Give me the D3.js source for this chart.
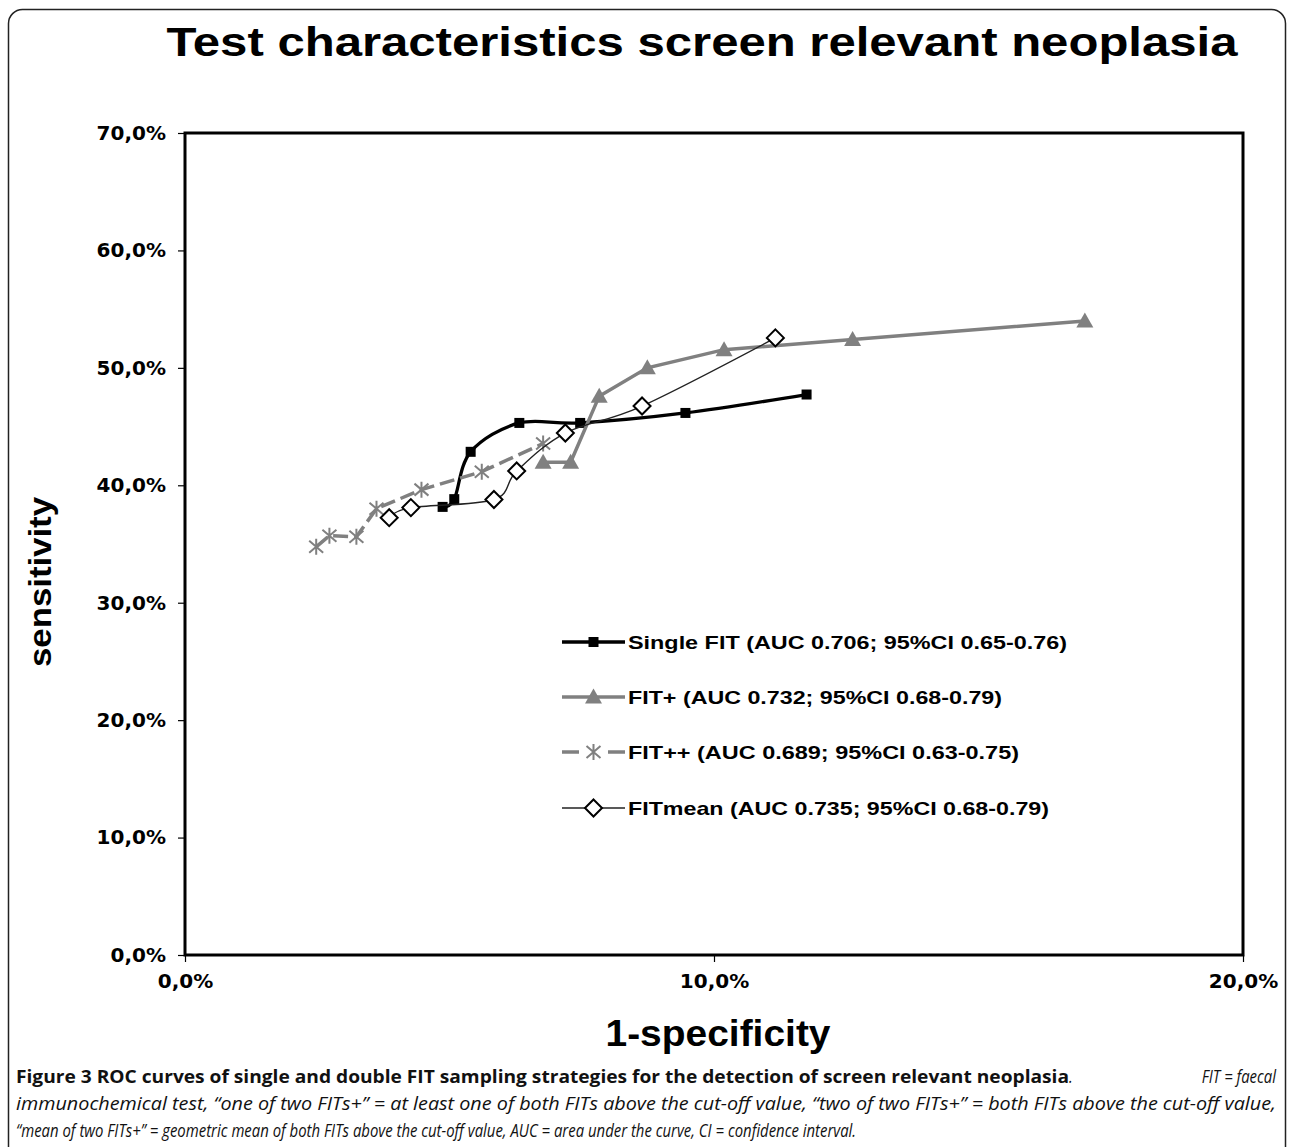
<!DOCTYPE html>
<html>
<head>
<meta charset="utf-8">
<script src="https://cdn.jsdelivr.net/npm/d3@7"></script>
<style>
    body { margin: 0; background: #fff; }
    svg { display: block; font-family: "Liberation Sans", Arial, sans-serif; }
</style>
</head>
<body>
<svg id="chart"></svg>
<script>
// Values (percent)
const xTicks = [0, 10, 20];
const yTicks = [0, 10, 20, 30, 40, 50, 60, 70];

const singleFitX = [4.87, 5.09, 5.40, 6.32, 7.47, 9.46, 11.75];
const singleFitY = [38.16, 38.82, 42.85, 45.31, 45.31, 46.16, 47.73];

const fitPlusX = [6.77, 7.29, 7.83, 8.74, 10.19, 12.62, 17.01];
const fitPlusY = [41.97, 41.97, 47.59, 50.0, 51.55, 52.41, 54.0];

const fitPlusPlusX = [2.48, 2.73, 3.24, 3.62, 4.47, 5.61, 6.77];
const fitPlusPlusY = [34.76, 35.71, 35.61, 38.01, 39.63, 41.16, 43.56];

const fitMeanX = [3.86, 4.27, 5.84, 6.27, 7.19, 8.64, 11.16];
const fitMeanY = [37.24, 38.10, 38.79, 41.22, 44.45, 46.75, 52.55];

const seriesNames = [
    "Single FIT (AUC 0.706; 95%CI 0.65-0.76)",
    "FIT+ (AUC 0.732; 95%CI 0.68-0.79)",
    "FIT++ (AUC 0.689; 95%CI 0.63-0.75)",
    "FITmean (AUC 0.735; 95%CI 0.68-0.79)",
];

const titleText = "Test characteristics screen relevant neoplasia";
const xTitle = "1-specificity";
const yTitle = "sensitivity";

const captionBold = "Figure 3 ROC curves of single and double FIT sampling strategies for the detection of screen relevant neoplasia";
const captionLines = [
    "FIT = faecal",
    "immunochemical test, \u201cone of two FITs+\u201d = at least one of both FITs above the cut-off value, \u201ctwo of two FITs+\u201d = both FITs above the cut-off value,",
    "\u201cmean of two FITs+\u201d = geometric mean of both FITs above the cut-off value, AUC = area under the curve, CI = confidence interval.",
];

class RocChart {
    constructor(_config, _series) {
        this.config = {
            parentElement: _config.parentElement,
            containerWidth: _config.containerWidth || 1293,
            containerHeight: _config.containerHeight || 1147,
            margin: { top: 133, right: 50, bottom: 192, left: 185 },
        };
        this.series = _series;
        this.initVis();
    }

    initVis() {
        let vis = this;

        vis.width = vis.config.containerWidth - vis.config.margin.left - vis.config.margin.right;
        vis.height = vis.config.containerHeight - vis.config.margin.top - vis.config.margin.bottom;

        vis.svg = d3.select(vis.config.parentElement)
            .attr("width", vis.config.containerWidth)
            .attr("height", vis.config.containerHeight);

        // rounded outer frame (runs past the bottom edge)
        vis.svg.append("rect")
            .attr("x", 8.5).attr("y", 9.5)
            .attr("width", 1277).attr("height", 1170)
            .attr("rx", 14)
            .attr("fill", "none")
            .attr("stroke", "#222")
            .attr("stroke-width", 1.5);

        vis.svg.append("text")
            .attr("x", 702).attr("y", 56)
            .attr("text-anchor", "middle")
            .attr("font-size", 41).attr("font-weight", "bold")
            .attr("textLength", 1071).attr("lengthAdjust", "spacingAndGlyphs")
            .text(titleText);

        vis.xScale = d3.scaleLinear().domain([0, 20]).range([0, vis.width]);
        vis.yScale = d3.scaleLinear().domain([0, 70]).range([vis.height, 0]);

        const loc = d3.formatLocale({ decimal: ",", thousands: ".", grouping: [3], currency: ["", "€"] });
        const fmt = d => loc.format(".1f")(d) + "%";

        vis.xAxis = d3.axisBottom(vis.xScale).tickValues(xTicks).tickFormat(fmt).tickSize(7).tickPadding(12);
        vis.yAxis = d3.axisLeft(vis.yScale).tickValues(yTicks).tickFormat(fmt).tickSize(7).tickPadding(12);

        vis.chart = vis.svg.append("g")
            .attr("transform", `translate(${vis.config.margin.left},${vis.config.margin.top})`);

        vis.xAxisG = vis.chart.append("g")
            .attr("class", "axis x-axis")
            .attr("transform", `translate(0,${vis.height})`);
        vis.yAxisG = vis.chart.append("g").attr("class", "axis y-axis");

        // plot frame
        vis.chart.append("rect")
            .attr("width", vis.width).attr("height", vis.height)
            .attr("fill", "none").attr("stroke", "#000").attr("stroke-width", 3);

        vis.svg.append("text")
            .attr("transform", "translate(51,582) rotate(-90)")
            .attr("text-anchor", "middle")
            .attr("font-size", 32).attr("font-weight", "bold")
            .attr("textLength", 170).attr("lengthAdjust", "spacingAndGlyphs")
            .text(yTitle);

        vis.svg.append("text")
            .attr("x", 718).attr("y", 1046)
            .attr("text-anchor", "middle")
            .attr("font-size", 36).attr("font-weight", "bold")
            .attr("textLength", 225).attr("lengthAdjust", "spacingAndGlyphs")
            .text(xTitle);

        vis.updateVis();
    }

    updateVis() {
        let vis = this;

        vis.seriesData = vis.series.map(s => ({
            name: s.name,
            style: s.style,
            points: d3.zip(s.x, s.y),
        }));

        vis.xValue = d => d[0];
        vis.yValue = d => d[1];

        vis.renderVis();
    }

    drawMarker(g, type) {
        if (type === "square") {
            g.append("rect").attr("x", -5).attr("y", -5).attr("width", 10).attr("height", 10).attr("fill", "#000");
        } else if (type === "triangle") {
            g.append("path").attr("d", "M0,-8.5L8.5,6.5L-8.5,6.5Z").attr("fill", "#808080");
        } else if (type === "star") {
            g.append("path")
                .attr("d", "M0,-8V8M-7,-6L7,6M-7,6L7,-6")
                .attr("stroke", "#808080").attr("stroke-width", 2).attr("fill", "none");
        } else if (type === "diamond") {
            g.append("path")
                .attr("d", "M0,-8.5L8.5,0L0,8.5L-8.5,0Z")
                .attr("fill", "#fff").attr("stroke", "#000").attr("stroke-width", 2);
        }
    }

    renderVis() {
        let vis = this;

        const line = d3.line()
            .x(d => vis.xScale(vis.xValue(d)))
            .y(d => vis.yScale(vis.yValue(d)));

        const groups = vis.chart.selectAll(".series")
            .data(vis.seriesData)
            .join("g")
            .attr("class", "series");

        groups.append("path")
            .attr("d", d => line.curve(d.style.curve)(d.points))
            .attr("fill", "none")
            .attr("stroke", d => d.style.color)
            .attr("stroke-width", d => d.style.width)
            .attr("stroke-dasharray", d => d.style.dash || null);

        groups.each(function (s) {
            d3.select(this).selectAll(".marker")
                .data(s.points)
                .join("g")
                .attr("class", "marker")
                .attr("transform", d => `translate(${vis.xScale(vis.xValue(d))},${vis.yScale(vis.yValue(d))})`)
                .each(function () { vis.drawMarker(d3.select(this), s.style.marker); });
        });

        // Legend
        const legendRows = [642, 697, 752, 808];
        const legendWidths = [439, 374, 391, 421];
        const legend = vis.svg.append("g").attr("class", "legend");
        vis.seriesData.forEach((s, i) => {
            const row = legend.append("g").attr("transform", `translate(562,${legendRows[i]})`);
            row.append("line")
                .attr("x1", 0).attr("x2", 63)
                .attr("stroke", s.style.color)
                .attr("stroke-width", s.style.width)
                .attr("stroke-dasharray", s.style.dash ? "17,29,17" : null);
            vis.drawMarker(row.append("g").attr("transform", "translate(31.5,0)"), s.style.marker);
            row.append("text")
                .attr("x", 66).attr("dy", "0.36em")
                .attr("font-size", 19).attr("font-weight", "bold")
                .attr("textLength", legendWidths[i]).attr("lengthAdjust", "spacingAndGlyphs")
                .text(s.name);
        });

        vis.xAxisG.call(vis.xAxis);
        vis.yAxisG.call(vis.yAxis);
        [vis.xAxisG, vis.yAxisG].forEach(g => {
            g.select(".domain").remove();
            g.selectAll(".tick line").attr("stroke", "#000").attr("stroke-width", 1.2);
            g.selectAll(".tick text")
                .attr("fill", "#000")
                .attr("font-family", "'DejaVu Sans', sans-serif")
                .attr("font-size", 20)
                .attr("font-weight", "bold");
        });
    }
}

function drawCaption(svg) {
    const left = 16, baseY = 1083, lineGap = 27;
    const cap = svg.append("g")
        .attr("font-family", "'Open Sans', sans-serif")
        .attr("font-size", 18)
        .attr("fill", "#111");

    // last line is not justified: it sets how condensed the caption font is
    const last = cap.append("text")
        .attr("font-style", "italic")
        .text(captionLines[2]);
    const squeeze = 841 / last.node().getComputedTextLength();
    last.attr("transform", `translate(${left},${baseY + 2 * lineGap}) scale(${squeeze},1)`);

    // justified lines
    const first = cap.append("text")
        .attr("transform", `translate(${left},${baseY}) scale(${squeeze},1)`);
    first.append("tspan")
        .attr("x", 0)
        .attr("font-weight", "bold")
        .attr("textLength", 1053 / squeeze).attr("lengthAdjust", "spacingAndGlyphs")
        .text(captionBold);
    first.append("tspan")
        .attr("font-style", "italic")
        .text(".");
    first.append("tspan")
        .attr("x", 1260 / squeeze)
        .attr("text-anchor", "end")
        .attr("font-style", "italic")
        .text(captionLines[0]);

    cap.append("text")
        .attr("transform", `translate(${left},${baseY + lineGap}) scale(${squeeze},1)`)
        .attr("font-style", "italic")
        .attr("textLength", 1260 / squeeze).attr("lengthAdjust", "spacingAndGlyphs")
        .text(captionLines[1]);
}

const series = [
    { name: seriesNames[0], x: singleFitX, y: singleFitY,
      style: { color: "#000", width: 3.3, curve: d3.curveCatmullRom.alpha(0), marker: "square" } },
    { name: seriesNames[1], x: fitPlusX, y: fitPlusY,
      style: { color: "#808080", width: 3.5, curve: d3.curveLinear, marker: "triangle" } },
    { name: seriesNames[2], x: fitPlusPlusX, y: fitPlusPlusY,
      style: { color: "#808080", width: 3.5, dash: "15,6", curve: d3.curveLinear, marker: "star" } },
    { name: seriesNames[3], x: fitMeanX, y: fitMeanY,
      style: { color: "#222", width: 1.4, curve: d3.curveCatmullRom.alpha(0), marker: "diamond" } },
];

const rocChart = new RocChart({ parentElement: "#chart" }, series);
drawCaption(rocChart.svg);
</script>
</body>
</html>
